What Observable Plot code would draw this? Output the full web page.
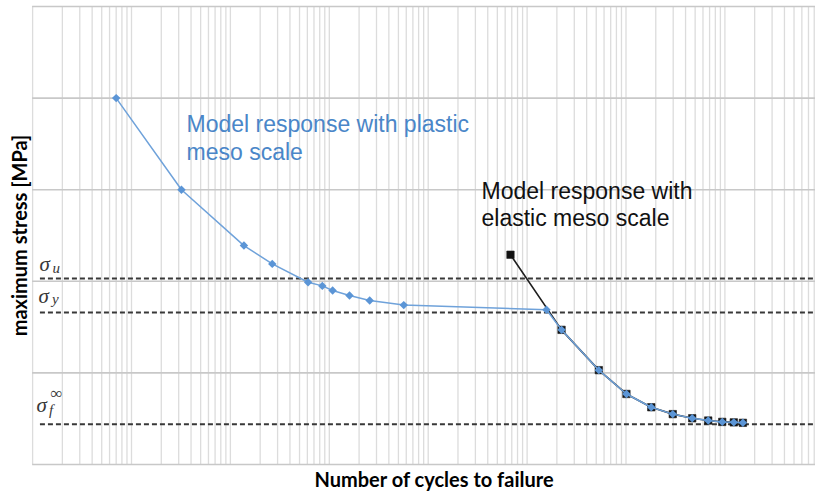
<!DOCTYPE html>
<html>
<head>
<meta charset="utf-8">
<script src="https://cdn.jsdelivr.net/npm/d3@7"></script>
<script src="https://cdn.jsdelivr.net/npm/@observablehq/plot@0.6"></script>
<style>
  body { margin: 0; background: #fff; }
  #chart svg { display: block; }
</style>
</head>
<body>
<div id="chart"></div>
<script>
// S-N curves: maximum stress vs. number of cycles to failure

// Model response with plastic meso scale
const plasticCycles = [7, 32, 137, 265, 610, 850, 1080, 1600, 2560, 5660,
  157000, 223000, 531000, 1010000, 1800000, 2970000, 4670000, 6780000, 9400000, 12300000, 15200000];
const plasticStress = [400, 300, 239, 219, 199, 195, 190, 184.5, 179, 174,
  169, 147, 103, 77, 62.5, 55, 50.5, 48, 46.5, 46, 45.5];

// Model response with elastic meso scale
const elasticCycles = [67900, 223000, 531000, 1010000, 1800000, 2970000, 4670000, 6780000, 9400000, 12300000, 15200000];
const elasticStress = [229, 147, 103, 77, 62.5, 55, 50.5, 48, 46.5, 46, 45.5];

// Reference stress levels: ultimate, yield, endurance limit
const levelNames = ["u", "y", "f"];
const levelSup = ["", "", "∞"];
const levelStress = [203, 166, 44];

// Log grid (1..9 per decade) and stress grid
const decades = [1, 10, 100, 1e3, 1e4, 1e5, 1e6, 1e7];
const steps = [1, 2, 3, 4, 5, 6, 7, 8, 9];
const stressGrid = [0, 100, 200, 300, 400, 500];

const xLabel = "Number of cycles to failure";
const yLabel = "maximum stress [MPa]";
const plasticLabel = "Model response with plastic\nmeso scale";
const elasticLabel = "Model response with\nelastic meso scale";

const plastic = plasticCycles.map((c, i) => ({cycles: c, stress: plasticStress[i]}));
const elastic = elasticCycles.map((c, i) => ({cycles: c, stress: elasticStress[i]}));
const levels = levelNames.map((n, i) => ({name: n, sup: levelSup[i], stress: levelStress[i]}));
const gridCycles = decades.flatMap(d => steps.map(s => s * d));

const xMax = Math.pow(10, 7.916);
const blue = "#5b95d6";
const ink = "#383838";
const serif = "'Liberation Serif', 'DejaVu Serif', serif";

// offsets of the sigma glyphs and their indices from each dashed line
const sigmaPos = {u: {dx: 7, dy: -8}, y: {dx: 6, dy: -9.5}, f: {dx: 4, dy: -12}};
const subPos = {u: {dx: 20, dy: -6}, y: {dx: 19.5, dy: -8}, f: {dx: 16.5, dy: -9.5}};

const plot = Plot.plot({
  width: 815,
  height: 493,
  marginTop: 6,
  marginBottom: 29,
  marginLeft: 32.1,
  marginRight: 0,
  x: {type: "log", domain: [1, xMax], axis: null},
  y: {domain: [0, 500], axis: null},
  style: {background: "#fff"},
  marks: [
    Plot.ruleX(gridCycles, {x: d => d, stroke: "#dcdcdc", strokeWidth: 1.3}),
    Plot.ruleY(stressGrid, {y: d => d, stroke: "#c8c8c8", strokeWidth: 1.6}),
    Plot.ruleY(levels, {y: "stress", x1: 1.2, x2: xMax, stroke: ink, strokeWidth: 1.9, strokeDasharray: "5,3"}),
    // elastic series underneath
    Plot.line(elastic, {x: "cycles", y: "stress", stroke: "#1e1e1e", strokeWidth: 1.6}),
    Plot.dot(elastic, {x: "cycles", y: "stress", symbol: "square", r: 4.2, fill: "#111", stroke: "#222", strokeWidth: 0.6}),
    // plastic series on top
    Plot.line(plastic, {x: "cycles", y: "stress", stroke: "#6fa2da", strokeWidth: 1.5}),
    Plot.dot(plastic, {x: "cycles", y: "stress", symbol: "diamond2", r: 3.8, fill: blue, stroke: "none"}),
    // level labels
    ...levels.map(l => Plot.text([l], {x: () => 1, y: "stress", text: () => "σ", textAnchor: "start", lineAnchor: "bottom",
      dx: sigmaPos[l.name].dx, dy: sigmaPos[l.name].dy, fontFamily: serif, fontStyle: "italic", fontSize: 21, fill: ink})),
    ...levels.map(l => Plot.text([l], {x: () => 1, y: "stress", text: "name", textAnchor: "start", lineAnchor: "bottom",
      dx: subPos[l.name].dx, dy: subPos[l.name].dy, fontFamily: serif, fontStyle: "italic", fontSize: 15, fill: ink})),
    Plot.text(levels.filter(l => l.sup), {x: () => 1, y: "stress", text: "sup", textAnchor: "start", lineAnchor: "bottom",
      dx: 18, dy: -25, fontFamily: serif, fontSize: 17, fill: ink}),
    // series annotations
    Plot.text([plasticLabel], {x: () => 36, y: () => 332.6, textAnchor: "start", lineAnchor: "bottom", lineHeight: 1.2,
      fontFamily: "'Liberation Sans', Arial, sans-serif", fontSize: 23, fill: "#4a86c8"}),
    Plot.text([elasticLabel], {x: () => 34600, y: () => 260.2, textAnchor: "start", lineAnchor: "bottom", lineHeight: 1.16,
      fontFamily: "'Liberation Sans', Arial, sans-serif", fontSize: 23, fill: "#111"}),
    // axis titles
    Plot.text([yLabel], {frameAnchor: "left", textAnchor: "middle", rotate: -90, dx: -12, fontFamily: "Lato, sans-serif", fontWeight: "bold", fontSize: 20, fill: "#000"}),
    Plot.text([xLabel], {frameAnchor: "bottom", textAnchor: "middle", dx: 10, dy: 16, lineAnchor: "middle", fontFamily: "Lato, sans-serif", fontWeight: "bold", fontSize: 20, fill: "#000"})
  ]
});

document.getElementById("chart").appendChild(plot);
</script>
</body>
</html>
